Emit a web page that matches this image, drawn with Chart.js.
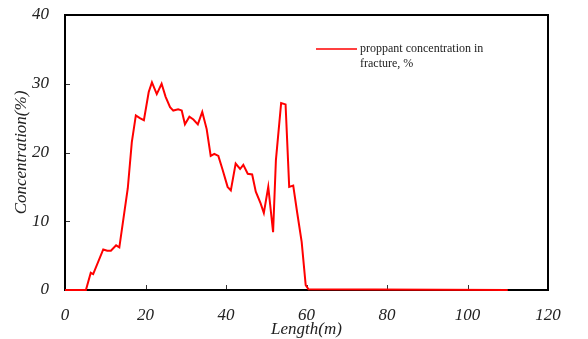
<!DOCTYPE html>
<html>
<head>
<meta charset="utf-8">
<script src="https://cdn.jsdelivr.net/npm/chart.js@4"></script>
<style>
  html, body { margin: 0; padding: 0; background: #fff; }
  #wrap { width: 588px; height: 339px; }
</style>
</head>
<body>
<div id="wrap"><canvas id="chartCanvas"></canvas></div>
<script>
// length along fracture (m) and proppant concentration (%)
const lengths = [0, 5.2, 6.4, 7.0, 9.5, 10.5, 11.4, 12.7, 13.5, 15.6, 16.6, 17.6, 18.6, 19.6, 20.8, 21.6, 22.8, 24.0, 25.0, 26.1, 26.9, 28.1, 29.0, 29.8, 30.9, 31.9, 33.0, 34.1, 35.2, 36.2, 37.1, 38.1, 39.1, 40.4, 41.2, 42.4, 43.5, 44.3, 45.4, 46.5, 47.4, 48.6, 49.4, 50.5, 51.7, 52.4, 53.7, 54.8, 55.7, 56.7, 57.7, 58.8, 59.8, 60.5, 110];
const concentration = [0, 0, 2.5, 2.3, 5.9, 5.7, 5.7, 6.5, 6.2, 14.8, 21.5, 25.4, 25.0, 24.7, 28.8, 30.2, 28.5, 30.0, 28.1, 26.6, 26.1, 26.3, 26.1, 24.1, 25.2, 24.8, 24.1, 25.9, 23.4, 19.5, 19.8, 19.5, 17.6, 15.0, 14.5, 18.4, 17.6, 18.2, 16.9, 16.8, 14.3, 12.6, 11.2, 15.0, 8.4, 18.9, 27.2, 27.0, 15.0, 15.2, 11.2, 7.0, 0.7, 0.1, 0];
const legendLines = ["proppant concentration in", "fracture, %"];
const xTitle = "Length(m)";
const yTitle = "Concentration(%)";

const serif = "'Liberation Serif', 'Times New Roman', serif";

// box around the plot plus small inward tick marks
const framePlugin = {
  id: "frame",
  beforeDatasetsDraw(chart) {
    const { ctx, chartArea: a, scales } = chart;
    ctx.save();
    ctx.strokeStyle = "#333";
    ctx.lineWidth = 1;
    scales.x.ticks.forEach(t => {
      const px = Math.round(scales.x.getPixelForValue(t.value)) + 0.5;
      ctx.beginPath(); ctx.moveTo(px, a.bottom); ctx.lineTo(px, a.bottom - 5); ctx.stroke();
    });
    scales.y.ticks.forEach(t => {
      const py = Math.round(scales.y.getPixelForValue(t.value)) + 0.5;
      ctx.beginPath(); ctx.moveTo(a.left, py); ctx.lineTo(a.left + 5, py); ctx.stroke();
    });
    ctx.strokeStyle = "#000";
    ctx.lineWidth = 2;
    ctx.strokeRect(a.left, a.top, a.right - a.left, a.bottom - a.top);
    ctx.restore();
  },
  afterDraw(chart) {
    const { ctx, chartArea: a } = chart;
    const lx = a.left + 251, ly = a.top + 34;
    ctx.save();
    ctx.strokeStyle = "#ff0000";
    ctx.lineWidth = 1.5;
    ctx.beginPath(); ctx.moveTo(lx, ly); ctx.lineTo(lx + 41, ly); ctx.stroke();
    ctx.fillStyle = "#222";
    ctx.font = "12px " + serif;
    ctx.textBaseline = "middle";
    legendLines.forEach((s, i) => ctx.fillText(s, lx + 44, ly + i * 14.5));
    ctx.restore();
  }
};

new Chart(document.getElementById("chartCanvas"), {
  type: "line",
  data: {
    datasets: [{
      label: legendLines.join(" "),
      data: lengths.map((x, i) => ({ x, y: concentration[i] })),
      borderColor: "#ff0000",
      borderWidth: 2,
      pointRadius: 0,
      tension: 0,
      clip: false
    }]
  },
  options: {
    responsive: true,
    maintainAspectRatio: false,
    animation: false,
    layout: { padding: { left: 0, right: 40, top: 15, bottom: 0 } },
    plugins: { legend: { display: false }, tooltip: { enabled: false } },
    scales: {
      x: {
        type: "linear",
        min: 0, max: 120,
        grid: { display: false, drawTicks: false },
        border: { display: false },
        ticks: { stepSize: 20, padding: 15, color: "#222", font: { family: serif, size: 17, style: "italic" }, maxRotation: 0 },
        title: { display: true, text: xTitle, color: "#222", padding: { top: -4, bottom: -1 }, font: { family: serif, size: 17, style: "italic" } },
        afterFit(s) { s.height = 49; s.paddingLeft = 0; s.paddingRight = 0; }
      },
      y: {
        min: 0, max: 40,
        grid: { display: false, drawTicks: false },
        border: { display: false },
        ticks: { stepSize: 10, padding: 16, color: "#222", font: { family: serif, size: 17, style: "italic" } },
        title: { display: true, text: yTitle, color: "#222", padding: { top: 11, bottom: 0 }, font: { family: serif, size: 17, style: "italic" } },
        afterFit(s) { s.width = 65; s.paddingTop = 0; s.paddingBottom = 0; }
      }
    }
  },
  plugins: [framePlugin]
});
</script>
</body>
</html>
